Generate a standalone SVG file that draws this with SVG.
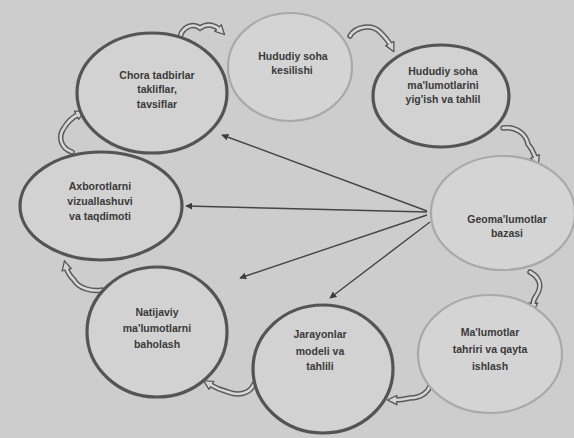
<svg xmlns="http://www.w3.org/2000/svg" width="574" height="438" viewBox="0 0 574 438">
<defs>
<marker id="ah" viewBox="0 0 10 10" refX="9" refY="5" markerWidth="7" markerHeight="7" orient="auto-start-reverse" markerUnits="userSpaceOnUse">
<path d="M0,0 L10,5 L0,10 z" fill="#3c3c3c"/>
</marker>
<marker id="ch" viewBox="0 0 12 12" refX="4" refY="6" markerWidth="11" markerHeight="11" orient="auto" markerUnits="userSpaceOnUse">
<path d="M1,1 L11,6 L1,11 z" fill="#d6d6d6" stroke="#555" stroke-width="1.4"/>
</marker>
</defs>
<style>
.bg{fill:#cdcdcd}
.dark{fill:#d2d2d2;stroke:#545454;stroke-width:3.2}
.light{fill:#d4d4d4;stroke:#a9a9a9;stroke-width:2.2}
.t{font-family:"Liberation Sans",Arial,sans-serif;font-size:10.5px;font-weight:bold;fill:#3a3a3a;text-anchor:middle}
.ar{stroke:#454545;stroke-width:1.4;fill:none;marker-end:url(#ah)}
.co{stroke:#5a5a5a;stroke-width:5.5;fill:none;stroke-linecap:round;marker-end:url(#ch)}
.ci{stroke:#d6d6d6;stroke-width:2.6;fill:none;stroke-linecap:round}
</style>
<rect class="bg" x="0" y="0" width="574" height="438"/>

<g id="connectors">
<line class="ar" x1="427" y1="211" x2="222" y2="135"/>
<line class="ar" x1="427" y1="212" x2="186" y2="206"/>
<line class="ar" x1="427" y1="215" x2="240" y2="278"/>
<line class="ar" x1="430" y1="222" x2="330" y2="298"/>
<g id="curls">
<path class="co" d="M180 40 C180 28,192 22,200 28 C208 22,216 26,220 30"/>
<path class="ci" d="M180 40 C180 28,192 22,200 28 C208 22,216 26,220 30"/>
<path class="co" d="M350 36 C356 26,372 24,380 32 C386 38,389 42,391 46"/>
<path class="ci" d="M350 36 C356 26,372 24,380 32 C386 38,389 42,391 46"/>
<path class="co" d="M503 128 C516 126,526 134,528 144 C533 150,534 154,536 159"/>
<path class="ci" d="M503 128 C516 126,526 134,528 144 C533 150,534 154,536 159"/>
<path class="co" d="M530 272 C544 280,540 290,536 296 C533 300,533 303,533 306"/>
<path class="ci" d="M530 272 C544 280,540 290,536 296 C533 300,533 303,533 306"/>
<path class="co" d="M430 380 C432 392,420 398,410 398 C402 400,398 400,394 400"/>
<path class="ci" d="M430 380 C432 392,420 398,410 398 C402 400,398 400,394 400"/>
<path class="co" d="M254 384 C250 394,238 396,228 392 C220 390,214 387,209 384"/>
<path class="ci" d="M254 384 C250 394,238 396,228 392 C220 390,214 387,209 384"/>
<path class="co" d="M102 290 C92 292,78 288,74 280 C69 275,67 271,66 267"/>
<path class="ci" d="M102 290 C92 292,78 288,74 280 C69 275,67 271,66 267"/>
<path class="co" d="M72 152 C60 148,58 136,64 128 C68 121,73 117,79 114"/>
<path class="ci" d="M72 152 C60 148,58 136,64 128 C68 121,73 117,79 114"/>
</g>
</g>

<g id="n-kesilishi">
<ellipse class="light" cx="290" cy="67" rx="62" ry="54"/>
<text class="t" x="293" y="60">Hududiy soha</text>
<text class="t" x="292" y="74">kesilishi</text>
</g>

<g id="n-chora">
<ellipse class="dark" cx="152" cy="93" rx="75" ry="60"/>
<text class="t" x="157" y="79">Chora tadbirlar</text>
<text class="t" x="157" y="93">takliflar,</text>
<text class="t" x="157" y="108">tavsiflar</text>
</g>

<g id="n-malumot">
<ellipse class="dark" cx="441" cy="96" rx="68" ry="51"/>
<text class="t" x="443" y="75">Hududiy soha</text>
<text class="t" x="443" y="89">ma'lumotlarini</text>
<text class="t" x="443" y="103">yig'ish va tahlil</text>
</g>

<g id="n-geo">
<ellipse class="light" cx="503" cy="213" rx="72" ry="57"/>
<text class="t" x="507" y="223">Geoma'lumotlar</text>
<text class="t" x="507" y="237">bazasi</text>
</g>

<g id="n-axborot">
<ellipse class="dark" cx="101" cy="206" rx="81" ry="54"/>
<text class="t" x="100" y="190">Axborotlarni</text>
<text class="t" x="100" y="205">vizuallashuvi</text>
<text class="t" x="100" y="220">va taqdimoti</text>
</g>

<g id="n-natija">
<ellipse class="dark" cx="157" cy="332" rx="70" ry="65"/>
<text class="t" x="157" y="316">Natijaviy</text>
<text class="t" x="157" y="332">ma'lumotlarni</text>
<text class="t" x="157" y="348">baholash</text>
</g>

<g id="n-jarayon">
<ellipse class="dark" cx="323" cy="369" rx="70" ry="64"/>
<text class="t" x="320" y="338">Jarayonlar</text>
<text class="t" x="320" y="355">modeli va</text>
<text class="t" x="320" y="370">tahlili</text>
</g>

<g id="n-tahrir">
<ellipse class="light" cx="490" cy="354" rx="72" ry="59"/>
<text class="t" x="490" y="336">Ma'lumotlar</text>
<text class="t" x="490" y="353">tahriri va qayta</text>
<text class="t" x="490" y="370">ishlash</text>
</g>
</svg>
